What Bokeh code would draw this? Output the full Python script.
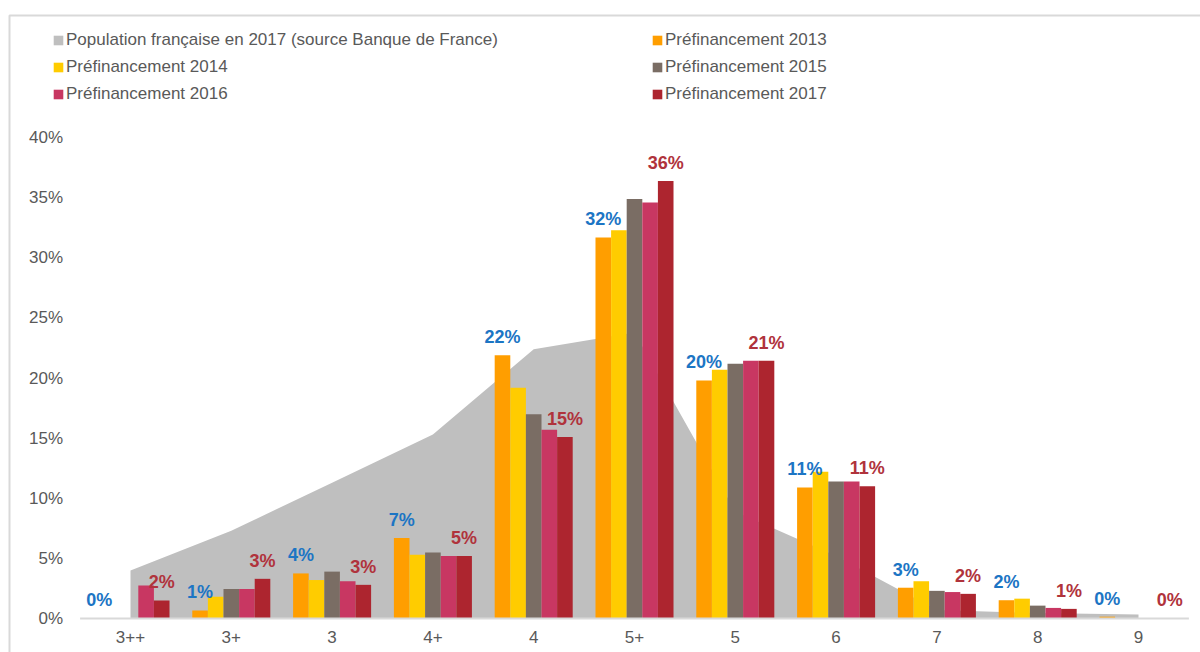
import numpy as np
from bokeh.plotting import figure
from bokeh.models import Range1d, FixedTicker, Legend, LegendItem, ColumnDataSource
from bokeh.core.properties import value
from bokeh.embed import file_html
from bokeh.resources import INLINE

categories = ["3++", "3+", "3", "4+", "4", "5+", "5", "6", "7", "8", "9"]
population_2017 = [4.0, 7.3, 11.3, 15.3, 22.4, 23.8, 8.9, 5.2, 0.7, 0.45, 0.33]
pref_2013 = [0.0, 0.67, 3.75, 6.7, 21.9, 31.7, 19.8, 10.9, 2.56, 1.52, 0.15]
pref_2014 = [0.0, 1.8, 3.2, 5.3, 19.2, 32.3, 20.7, 12.2, 3.1, 1.65, 0.0]
pref_2015 = [0.0, 2.45, 3.9, 5.5, 17.0, 34.9, 21.2, 11.4, 2.3, 1.07, 0.0]
pref_2016 = [2.75, 2.45, 3.1, 5.2, 15.7, 34.6, 21.45, 11.4, 2.2, 0.88, 0.0]
pref_2017 = [1.5, 3.3, 2.8, 5.2, 15.1, 36.4, 21.45, 11.0, 2.05, 0.8, 0.0]
y_ticks = [0, 5, 10, 15, 20, 25, 30, 35, 40]

series_names = ["Préfinancement 2013", "Préfinancement 2014", "Préfinancement 2015",
                "Préfinancement 2016", "Préfinancement 2017"]
series_values = [pref_2013, pref_2014, pref_2015, pref_2016, pref_2017]
series_colors = ["#FF9E00", "#FFCC00", "#7A6D64", "#C83762", "#AD252F"]
pop_name = "Population française en 2017 (source Banque de France)"
pop_color = "#BFBFBF"

FONT = "Liberation Sans"
TXT = "#595959"

idx = np.arange(len(categories), dtype=float)

p = figure(width=1200, height=652,
           x_range=Range1d(-1.2897, 10.6151), y_range=Range1d(-2.829, 51.414),
           toolbar_location=None, output_backend="svg",
           min_border=0, min_border_left=0, min_border_right=0,
           min_border_top=0, min_border_bottom=0)
p.title.visible = False
p.outline_line_color = None
p.background_fill_color = "white"
p.border_fill_color = "white"
p.xgrid.grid_line_color = None
p.ygrid.grid_line_color = None

# chart border (top + left)
p.line([-1.2004, -1.2004, 11.0], [-5, 50.17, 50.17], line_color="#D9D9D9", line_width=2)

# population area
r_pop = p.varea(x=idx, y1=np.zeros(len(idx)), y2=population_2017, fill_color=pop_color)

# bars
bw = 0.1548
bar_renderers = []
for k, (vals, col) in enumerate(zip(series_values, series_colors)):
    r = p.vbar(x=idx + (k - 2) * bw, top=vals, width=bw, fill_color=col, line_color=None)
    bar_renderers.append(r)

# x axis line
p.line([-0.5, len(categories) - 0.5], [0, 0], line_color="#D9D9D9", line_width=2)

# data labels (2013 in blue, 2017 in red)
for vals, off, col in [(pref_2013, -2, "#1C75C4"), (pref_2017, 2, "#B0333C")]:
    src = ColumnDataSource(dict(x=idx + off * bw, y=vals, t=[f"{v:.0f}%" for v in vals]))
    p.text(x="x", y="y", text="t", source=src, text_align="center", text_baseline="alphabetic",
           y_offset=-18, text_font=value(FONT), text_font_style="bold",
           text_font_size="18px", text_color=col)

# axes
xa = p.xaxis[0]
xa.fixed_location = 0
xa.ticker = FixedTicker(ticks=list(idx))
xa.major_label_overrides = {float(i): c for i, c in enumerate(categories)}
xa.axis_line_color = None
xa.major_tick_line_color = None
xa.minor_tick_line_color = None
xa.major_tick_out = 0
xa.major_label_standoff = 13
xa.major_label_text_font = FONT
xa.major_label_text_font_size = "17px"
xa.major_label_text_color = TXT

ya = p.yaxis[0]
ya.fixed_location = -0.5
ya.ticker = FixedTicker(ticks=y_ticks)
ya.major_label_overrides = {t: f"{t}%" for t in y_ticks}
ya.axis_line_color = None
ya.major_tick_line_color = None
ya.minor_tick_line_color = None
ya.major_tick_out = 0
ya.major_label_standoff = 17
ya.major_label_text_font = FONT
ya.major_label_text_font_size = "17px"
ya.major_label_text_color = TXT

# legends
items_all = [(pop_name, r_pop)] + list(zip(series_names, bar_renderers))
left_items = [items_all[0], items_all[2], items_all[4]]
right_items = [items_all[1], items_all[3], items_all[5]]

for items, vx in [(left_items, 52), (right_items, 651)]:
    lg = Legend(items=[LegendItem(label=n, renderers=[r]) for n, r in items],
                location=(vx, 548), orientation="vertical",
                glyph_width=12, glyph_height=12, label_height=20, label_standoff=2,
                spacing=7, padding=0, margin=0, border_line_color=None,
                background_fill_alpha=0, label_text_font=FONT,
                label_text_font_size="17px", label_text_color=TXT)
    p.add_layout(lg, "center")

open("out.html", "w").write(file_html(p, INLINE))
